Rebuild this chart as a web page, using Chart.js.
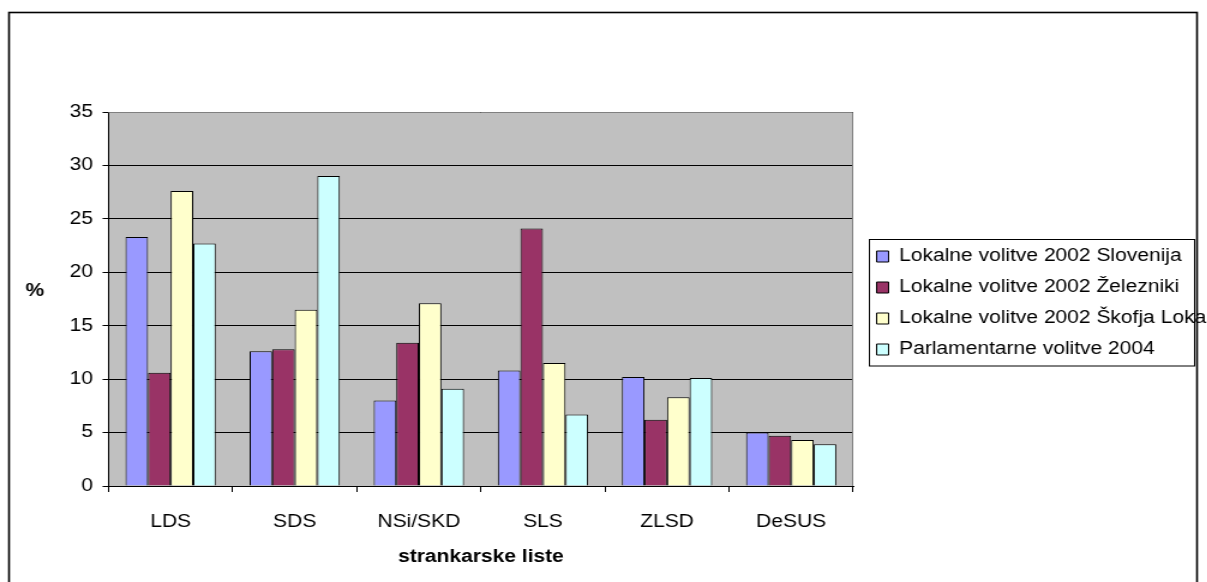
<!DOCTYPE html>
<html>
<head>
<meta charset="utf-8">
<script src="https://cdn.jsdelivr.net/npm/chart.js@4/dist/chart.umd.min.js"></script>
<style>
  html, body { margin: 0; padding: 0; background: #fff; overflow: hidden; }
  #wrap { width: 1006px; height: 582px; transform: scaleX(1.2); transform-origin: 0 0; }
</style>
</head>
<body>
<div id="wrap"><canvas id="chart" width="1006" height="582"></canvas></div>
<script>
var categories = ['LDS', 'SDS', 'NSi/SKD', 'SLS', 'ZLSD', 'DeSUS'];
var seriesNames = [
  'Lokalne volitve 2002 Slovenija',
  'Lokalne volitve 2002 Železniki',
  'Lokalne volitve 2002 Škofja Loka',
  'Parlamentarne volitve 2004'
];
var slovenija = [23.3, 12.6, 8.0, 10.8, 10.2, 5.0];
var zelezniki = [10.6, 12.8, 13.4, 24.1, 6.2, 4.7];
var skofjaLoka = [27.6, 16.5, 17.1, 11.5, 8.3, 4.3];
var parlament = [22.7, 29.0, 9.1, 6.7, 10.1, 3.9];
var colors = ['#9999FF', '#993366', '#FFFFCC', '#CCFFFF'];
var yTitle = '%';
var xTitle = 'strankarske liste';

var FONT = '"Liberation Sans", Arial, sans-serif';
var LEG_PAD = 13.5;

// grey plot area, its border, outer frame, the "%" label and legend box
var decor = {
  id: 'decor',
  afterLayout: function(chart) {
    // nudge legend a little right and down, like the original
    chart.legend.left += 6;
    chart.legend.right += 6;
    chart.legend.top += 4;
    chart.legend.bottom += 4;
  },
  beforeDraw: function(chart) {
    var ctx = chart.ctx, a = chart.chartArea;
    ctx.save();
    ctx.fillStyle = '#fff';
    ctx.fillRect(0, 0, chart.width, chart.height);
    ctx.fillStyle = '#C0C0C0';
    ctx.fillRect(a.left, a.top, a.right - a.left, a.bottom - a.top);
    ctx.strokeStyle = '#000';
    ctx.lineWidth = 1.6;
    ctx.strokeRect(7.5, 12.5, 990, 640);
    ctx.restore();
  },
  afterDraw: function(chart) {
    var ctx = chart.ctx, a = chart.chartArea;
    ctx.save();
    ctx.strokeStyle = '#808080';
    ctx.lineWidth = 1;
    ctx.beginPath();
    ctx.moveTo(a.left, a.top + 0.5);
    ctx.lineTo(a.right - 0.5, a.top + 0.5);
    ctx.lineTo(a.right - 0.5, a.bottom);
    ctx.stroke();

    ctx.fillStyle = '#000';
    ctx.font = 'bold 17.5px ' + FONT;
    ctx.textAlign = 'center';
    ctx.textBaseline = 'middle';
    ctx.fillText(yTitle, 29, 291);

    var hb = chart.legend.legendHitBoxes;
    if (hb && hb.length) {
      var first = hb[0], last = hb[hb.length - 1];
      ctx.strokeStyle = '#000';
      ctx.lineWidth = 1;
      var l = chart.legend.left + LEG_PAD - 7, t = first.top - 9;
      ctx.strokeRect(Math.round(l) + 0.5, Math.round(t) + 0.5, 271, last.top + last.height + 7 - t);
    }
    ctx.restore();
  }
};

var datasets = [slovenija, zelezniki, skofjaLoka, parlament].map(function(vals, i) {
  return {
    label: seriesNames[i],
    data: vals,
    backgroundColor: colors[i],
    borderColor: '#000',
    borderWidth: 1,
    barPercentage: 1,
    categoryPercentage: 4 / 5.5
  };
});

new Chart(document.getElementById('chart'), {
  type: 'bar',
  data: { labels: categories, datasets: datasets },
  options: {
    responsive: false,
    animation: false,
    layout: { padding: { left: 50, top: 112, right: 0, bottom: 14 } },
    plugins: {
      tooltip: { enabled: false },
      legend: {
        position: 'right',
        fullSize: false,
        maxWidth: 295,
        labels: {
          color: '#000',
          boxWidth: 10,
          boxHeight: 11,
          padding: LEG_PAD,
          font: { family: FONT, size: 17.5 }
        }
      }
    },
    scales: {
      x: {
        grid: { drawOnChartArea: false, drawTicks: true, tickLength: 6, color: '#000', offset: true },
        border: { color: '#000', width: 1 },
        ticks: { color: '#000', padding: 20, font: { family: FONT, size: 17.5 } },
        title: {
          display: true,
          text: xTitle,
          color: '#000',
          padding: { top: -6, bottom: 0 },
          font: { family: FONT, size: 17.5, weight: 'bold' }
        }
      },
      y: {
        min: 0,
        max: 35,
        ticks: { stepSize: 5, color: '#000', padding: 8, font: { family: FONT, size: 17.5 } },
        grid: { color: '#000', tickLength: 5, drawTicks: true },
        border: { color: '#000', width: 1 }
      }
    }
  },
  plugins: [decor]
});
</script>
</body>
</html>
